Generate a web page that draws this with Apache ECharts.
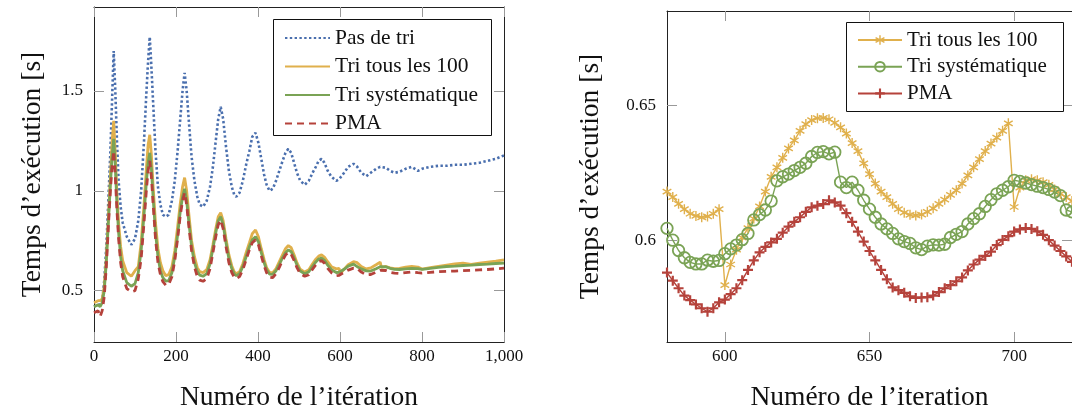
<!DOCTYPE html>
<html>
<head>
<meta charset="utf-8">
<script src="https://cdn.jsdelivr.net/npm/echarts@6/dist/echarts.min.js"></script>
<style>
  html, body { margin: 0; padding: 0; background: #fff; }
  #chart { width: 1072px; height: 417px; }
</style>
</head>
<body>
<div id="chart"></div>
<script>
// ------------------------------
// Data, left panel (full run)
// ------------------------------
var iterAll = [0, 10, 15, 20, 25, 30, 35, 40, 44, 48, 52, 56, 60, 65, 70, 80, 91, 100, 108, 115,
    122, 128, 132, 136, 140, 144, 150, 156, 162, 168, 175, 182, 190, 197, 204, 210, 216, 221, 226, 232,
    238, 245, 252, 258, 266, 275, 283, 290, 297, 303, 309, 315, 322, 329, 336, 342, 347, 355, 363, 371,
    379, 386, 394, 401, 408, 415, 421, 428, 436, 444, 452, 460, 467, 474, 481, 488, 495, 503, 514, 524,
    533, 541, 548, 555, 562, 570, 579, 591, 598, 600, 610, 620, 633, 642, 652, 664, 675, 688, 698, 701,
    712, 722, 733, 745, 760, 775, 790, 800, 820, 840, 860, 880, 900, 920, 940, 960, 980, 1000];

var pasDeTri = [0.42, 0.43, 0.43, 0.45, 0.55, 0.72, 0.95, 1.20, 1.45, 1.70, 1.50, 1.25, 1.05, 0.92, 0.84, 0.77, 0.73, 0.76, 0.85, 1.00,
    1.25, 1.50, 1.65, 1.77, 1.62, 1.45, 1.20, 1.02, 0.93, 0.88, 0.87, 0.88, 0.95, 1.05, 1.20, 1.35, 1.50, 1.59, 1.50, 1.33,
    1.17, 1.05, 0.97, 0.93, 0.92, 0.95, 1.02, 1.12, 1.25, 1.36, 1.42, 1.36, 1.22, 1.10, 1.02, 0.98, 0.97, 0.99, 1.05, 1.13,
    1.20, 1.27, 1.29, 1.24, 1.16, 1.08, 1.03, 1.00, 1.01, 1.05, 1.10, 1.15, 1.19, 1.21, 1.19, 1.14, 1.09, 1.05, 1.03, 1.05,
    1.09, 1.12, 1.15, 1.16, 1.14, 1.10, 1.07, 1.05, 1.058, 1.06, 1.09, 1.12, 1.135, 1.12, 1.09, 1.073, 1.09, 1.11, 1.12, 1.127,
    1.115, 1.10, 1.09, 1.095, 1.11, 1.12, 1.10, 1.11, 1.12, 1.125, 1.125, 1.13, 1.13, 1.135, 1.14, 1.15, 1.16, 1.177];

var triTous100 = [0.44, 0.45, 0.45, 0.46, 0.52, 0.66, 0.86, 1.07, 1.24, 1.35, 1.18, 0.98, 0.84, 0.72, 0.65, 0.59, 0.572, 0.60, 0.62, 0.74,
    0.93, 1.12, 1.23, 1.28, 1.18, 1.03, 0.84, 0.71, 0.64, 0.60, 0.575, 0.58, 0.62, 0.70, 0.82, 0.93, 1.02, 1.066, 1.00, 0.87,
    0.75, 0.67, 0.615, 0.595, 0.59, 0.605, 0.655, 0.73, 0.81, 0.87, 0.89, 0.85, 0.76, 0.68, 0.625, 0.595, 0.585, 0.595, 0.635, 0.69,
    0.74, 0.785, 0.804, 0.77, 0.71, 0.655, 0.615, 0.592, 0.59, 0.61, 0.645, 0.68, 0.71, 0.726, 0.715, 0.68, 0.64, 0.607, 0.593, 0.605,
    0.635, 0.658, 0.673, 0.679, 0.668, 0.645, 0.62, 0.609, 0.611, 0.583, 0.608, 0.63, 0.645, 0.64, 0.621, 0.609, 0.614, 0.63, 0.643, 0.617,
    0.621, 0.614, 0.61, 0.612, 0.618, 0.622, 0.618, 0.608, 0.615, 0.622, 0.628, 0.634, 0.638, 0.632, 0.638, 0.643, 0.648, 0.654];

var triSyst = [0.42, 0.43, 0.42, 0.44, 0.50, 0.64, 0.84, 1.03, 1.17, 1.26, 1.12, 0.93, 0.79, 0.67, 0.60, 0.54, 0.522, 0.535, 0.59, 0.70,
    0.88, 1.05, 1.14, 1.19, 1.11, 0.97, 0.79, 0.67, 0.60, 0.565, 0.548, 0.55, 0.59, 0.67, 0.78, 0.89, 0.97, 1.01, 0.95, 0.83,
    0.72, 0.64, 0.595, 0.578, 0.572, 0.585, 0.635, 0.71, 0.79, 0.85, 0.87, 0.83, 0.74, 0.66, 0.61, 0.585, 0.575, 0.585, 0.62, 0.67,
    0.72, 0.755, 0.77, 0.745, 0.69, 0.64, 0.605, 0.583, 0.582, 0.60, 0.632, 0.665, 0.69, 0.704, 0.695, 0.665, 0.628, 0.598, 0.585, 0.595,
    0.622, 0.644, 0.658, 0.663, 0.652, 0.628, 0.605, 0.591, 0.592, 0.595, 0.607, 0.623, 0.633, 0.62, 0.609, 0.599, 0.598, 0.61, 0.62, 0.622,
    0.619, 0.612, 0.607, 0.606, 0.609, 0.612, 0.61, 0.606, 0.612, 0.617, 0.621, 0.623, 0.626, 0.628, 0.631, 0.633, 0.636, 0.638];

var pma = [0.39, 0.40, 0.37, 0.40, 0.47, 0.62, 0.82, 1.00, 1.12, 1.20, 1.07, 0.90, 0.76, 0.64, 0.57, 0.51, 0.494, 0.50, 0.56, 0.66,
    0.84, 1.01, 1.10, 1.15, 1.07, 0.94, 0.76, 0.64, 0.58, 0.545, 0.528, 0.53, 0.57, 0.65, 0.76, 0.87, 0.95, 0.99, 0.93, 0.81,
    0.70, 0.62, 0.57, 0.553, 0.547, 0.56, 0.61, 0.69, 0.77, 0.83, 0.853, 0.81, 0.72, 0.64, 0.59, 0.568, 0.56, 0.57, 0.605, 0.655,
    0.705, 0.74, 0.754, 0.73, 0.675, 0.625, 0.59, 0.567, 0.565, 0.585, 0.617, 0.652, 0.678, 0.692, 0.682, 0.652, 0.615, 0.585, 0.572, 0.58,
    0.607, 0.63, 0.645, 0.65, 0.638, 0.612, 0.59, 0.575, 0.577, 0.578, 0.592, 0.603, 0.613, 0.611, 0.593, 0.579, 0.581, 0.593, 0.6015, 0.604,
    0.601, 0.592, 0.588, 0.586, 0.59, 0.594, 0.59, 0.588, 0.592, 0.595, 0.597, 0.598, 0.60, 0.602, 0.604, 0.606, 0.609, 0.613];

// ------------------------------
// Data, right panel (zoom 580-720)
// ------------------------------
var iterZoom = [580, 582, 584, 586, 588, 590, 592, 594, 596, 598,
    600, 602, 604, 606, 608, 610, 612, 614, 616, 618,
    620, 622, 624, 626, 628, 630, 632, 634, 636, 638,
    640, 642, 644, 646, 648, 650, 652, 654, 656, 658,
    660, 662, 664, 666, 668, 670, 672, 674, 676, 678,
    680, 682, 684, 686, 688, 690, 692, 694, 696, 698,
    700, 702, 704, 706, 708, 710, 712, 714, 716, 718,
    720];

var triTous100Zoom = [0.618, 0.616, 0.6135, 0.6115, 0.6098, 0.609, 0.6085, 0.6088, 0.6098, 0.6115,
    0.5834, 0.591, 0.5965, 0.601, 0.6045, 0.608, 0.6125, 0.618, 0.6235, 0.627,
    0.6305, 0.634, 0.637, 0.6405, 0.643, 0.6445, 0.6452, 0.6453, 0.6448, 0.6435,
    0.6418, 0.6395, 0.636, 0.633, 0.6285, 0.6245, 0.621, 0.618, 0.616, 0.6135,
    0.6115, 0.6102, 0.6094, 0.6092, 0.6095, 0.6105, 0.6118, 0.6135, 0.615, 0.6168,
    0.6185, 0.621, 0.624, 0.627, 0.63, 0.633, 0.6358, 0.638, 0.6405, 0.6433,
    0.6123, 0.6195, 0.6222, 0.6226, 0.6222, 0.6215, 0.6205, 0.6188, 0.6172, 0.616,
    0.6145];

var triSystZoom = [0.6044, 0.600, 0.5962, 0.5935, 0.5918, 0.5912, 0.5912, 0.5926, 0.5922, 0.5925,
    0.595, 0.5968, 0.5982, 0.6002, 0.6025, 0.6075, 0.6095, 0.6112, 0.6145, 0.622,
    0.6235, 0.6245, 0.6258, 0.627, 0.6285, 0.631, 0.6325, 0.6328, 0.632, 0.6326,
    0.6215, 0.6195, 0.6215, 0.6185, 0.6148, 0.6115, 0.6085, 0.606, 0.6042, 0.6025,
    0.6005, 0.5995, 0.5988, 0.5972, 0.5965, 0.5978, 0.5983, 0.5982, 0.5985, 0.601,
    0.6022, 0.6032, 0.606, 0.608, 0.6098, 0.6125, 0.615, 0.6172, 0.6185, 0.6198,
    0.6222, 0.6218, 0.6212, 0.6206, 0.620, 0.6195, 0.6188, 0.6178, 0.6165, 0.6112,
    0.6105];

var pmaZoom = [0.588, 0.585, 0.5822, 0.5795, 0.5778, 0.5762, 0.5748, 0.5735, 0.5748, 0.577,
    0.578, 0.580, 0.5822, 0.5852, 0.589, 0.5925, 0.5955, 0.5975, 0.5992, 0.6005,
    0.6028, 0.605, 0.6068, 0.6085, 0.6105, 0.6122, 0.6128, 0.6134, 0.6148, 0.614,
    0.6128, 0.610, 0.6068, 0.6032, 0.5995, 0.596, 0.5925, 0.589, 0.5855, 0.5825,
    0.5815, 0.5805, 0.5792, 0.5786, 0.5788, 0.5789, 0.5795, 0.5808, 0.5822, 0.5834,
    0.5848, 0.5862, 0.5888, 0.591, 0.5928, 0.5942, 0.5958, 0.5982, 0.6001, 0.6015,
    0.6032, 0.604, 0.6045, 0.6042, 0.6033, 0.602, 0.600, 0.598, 0.596, 0.594,
    0.592];

// tick labels
var xTicksLeft = [0, 200, 400, 600, 800, 1000];
var yTicksLeft = [0.5, 1, 1.5];
var xTicksRight = [600, 650, 700];
var yTicksRight = [0.6, 0.65];

var FONT = '"Liberation Serif", "DejaVu Serif", serif';
var BLUE = '#4a6fae', GOLD = '#e0b04c', GREEN = '#7aa355', RED = '#b5423b';

// asterisk and plus marks for the zoom panel
var starMark = 'path://M-0.7,-5L0.7,-5L0.7,5L-0.7,5Z M4.68,1.89L3.98,3.11L-4.68,-1.89L-3.98,-3.11Z M3.98,-3.11L4.68,-1.89L-3.98,3.11L-4.68,1.89Z';
var plusMark = 'path://M-5,-1.1L5,-1.1L5,1.1L-5,1.1Z M-1.1,-5L1.1,-5L1.1,5L-1.1,5Z';

function pairs(xs, ys) {
    return xs.map(function (x, i) { return [x, ys[i]]; });
}

function fmtNum(v) {
    return v >= 1000 ? v.toLocaleString('en-US') : String(v);
}

// one axis; labelled ones sit bottom/left, mirrored ones top/right carry only ticks
function axis(gridIndex, position, min, max, ticks, labelled, name, nameGap) {
    var a = {
        type: 'value',
        gridIndex: gridIndex,
        position: position,
        min: min,
        max: max,
        splitLine: { show: false },
        axisLine: { show: true, onZero: false, lineStyle: { color: '#222', width: 1 } },
        axisTick: { show: true, inside: true, length: 10, customValues: ticks, lineStyle: { color: '#999', width: 1 } },
        axisLabel: {
            show: labelled,
            customValues: ticks,
            formatter: fmtNum,
            fontFamily: FONT,
            fontSize: 17,
            color: '#111',
            margin: (position === 'bottom') ? 6 : 11
        }
    };
    if (name) {
        a.name = name;
        a.nameLocation = 'middle';
        a.nameGap = nameGap;
        a.nameTextStyle = { fontFamily: FONT, fontSize: 27.5, color: '#111' };
    }
    return a;
}

var chart = echarts.init(document.getElementById('chart'), null, { renderer: 'canvas' });

var option = {
    backgroundColor: '#fff',
    animation: false,
    grid: [
        { left: 94, top: 7, width: 410, height: 337 },
        { left: 667, top: 11, right: -5, height: 336 }
    ],
    xAxis: [
        axis(0, 'bottom', 0, 1000, xTicksLeft, true, 'Numéro de l\u2019itération', 42),
        axis(0, 'top', 0, 1000, xTicksLeft, false),
        axis(1, 'bottom', 580, 720, xTicksRight, true, 'Numéro de l\u2019iteration', 42),
        axis(1, 'top', 580, 720, xTicksRight, false)
    ],
    yAxis: [
        axis(0, 'left', 0.243, 1.92, yTicksLeft, true, 'Temps d\u2019exécution [s]', 47),
        axis(0, 'right', 0.243, 1.92, yTicksLeft, false),
        axis(1, 'left', 0.5623, 0.6849, yTicksRight, true, 'Temps d\u2019exécution [s]', 62),
        axis(1, 'right', 0.5623, 0.6849, yTicksRight, false)
    ],
    // legend frames
    graphic: [
        { type: 'rect', shape: { x: 273.5, y: 19.5, width: 218, height: 116 },
          style: { fill: '#fff', stroke: '#111', lineWidth: 1 }, z: 50 },
        { type: 'rect', shape: { x: 846.5, y: 22.5, width: 217, height: 89 },
          style: { fill: '#fff', stroke: '#111', lineWidth: 1 }, z: 50 }
    ],
    legend: [
        {
            data: ['Pas de tri', 'Tri tous les 100', 'Tri systématique', 'PMA'],
            orient: 'vertical', left: 284, top: 27, padding: 0,
            itemWidth: 45, itemHeight: 12, itemGap: 6.5,
            selectedMode: false, z: 60,
            itemStyle: { color: 'rgba(0,0,0,0)', borderWidth: 0, opacity: 0 },
            textStyle: { fontFamily: FONT, fontSize: 21.5, lineHeight: 20, color: '#111' }
        },
        {
            data: ['Tri tous les 100 (z)', 'Tri systématique (z)', 'PMA (z)'],
            formatter: function (n) { return n.replace(' (z)', ''); },
            orient: 'vertical', left: 857, top: 29.5, padding: 0,
            itemWidth: 44, itemHeight: 12, itemGap: 5.7,
            selectedMode: false, z: 60,
            textStyle: { fontFamily: FONT, fontSize: 21, lineHeight: 20, color: '#111' }
        }
    ],
    series: [
        {
            name: 'Pas de tri', type: 'line', xAxisIndex: 0, yAxisIndex: 0,
            data: pairs(iterAll, pasDeTri), symbol: 'none', color: BLUE,
            lineStyle: { color: BLUE, width: 2.6, type: [2.4, 2.4], cap: 'butt' }
        },
        {
            name: 'Tri tous les 100', type: 'line', xAxisIndex: 0, yAxisIndex: 0,
            data: pairs(iterAll, triTous100), symbol: 'none', color: GOLD,
            lineStyle: { color: GOLD, width: 2.8 }
        },
        {
            name: 'Tri systématique', type: 'line', xAxisIndex: 0, yAxisIndex: 0,
            data: pairs(iterAll, triSyst), symbol: 'none', color: GREEN,
            lineStyle: { color: GREEN, width: 2.8 }
        },
        {
            name: 'PMA', type: 'line', xAxisIndex: 0, yAxisIndex: 0,
            data: pairs(iterAll, pma), symbol: 'none', color: RED,
            lineStyle: { color: RED, width: 2.8, type: [7, 5] }
        },
        {
            name: 'Tri tous les 100 (z)', type: 'line', xAxisIndex: 2, yAxisIndex: 2,
            data: pairs(iterZoom, triTous100Zoom), color: GOLD,
            symbol: starMark, symbolSize: 10, symbolKeepAspect: true, showAllSymbol: true,
            itemStyle: { color: GOLD },
            lineStyle: { color: GOLD, width: 1.4 }
        },
        {
            name: 'Tri systématique (z)', type: 'line', xAxisIndex: 2, yAxisIndex: 2,
            data: pairs(iterZoom, triSystZoom), color: GREEN,
            symbol: 'circle', symbolSize: 11.5, showAllSymbol: true,
            itemStyle: { color: 'rgba(255,255,255,0)', borderColor: GREEN, borderWidth: 1.8 },
            lineStyle: { color: GREEN, width: 1.4 }
        },
        {
            name: 'PMA (z)', type: 'line', xAxisIndex: 2, yAxisIndex: 2,
            data: pairs(iterZoom, pmaZoom), color: RED,
            symbol: plusMark, symbolSize: 10, showAllSymbol: true,
            itemStyle: { color: RED },
            lineStyle: { color: RED, width: 1.4 }
        }
    ]
};

chart.setOption(option);
</script>
</body>
</html>
